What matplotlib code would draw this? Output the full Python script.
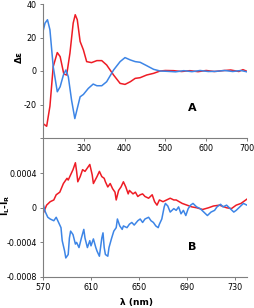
import numpy as np
import matplotlib
matplotlib.use('Agg')
import matplotlib.pyplot as plt

# Panel A: CD spectra (delta epsilon vs wavelength)
wl_a_red = [200, 209, 217, 225, 235, 242, 251, 258, 266, 274, 279, 284, 291, 299, 307, 319, 332,
            344, 356, 373, 389, 401, 414, 426, 438, 454, 471, 487, 500, 520, 540, 560, 580, 600,
            620, 640, 660, 680, 690, 700]
de_red = [-31.4, -33, -21, 2.6, 11, 8.6, -1.8, -2.4, 10.6, 28.6, 33.6, 30.6, 17.6, 12.6, 5.6, 5, 6.2,
          6.2, 3.6, -2.4, -7.4, -8, -6.4, -4.4, -4, -2.4, -1.4, 0, 0.3, 0.2, -0.3, 0.2, -0.4, 0.3,
          -0.3, 0.2, 0.6, -0.3, 0.8, -0.2]
wl_a_blue = [200, 205, 211, 217, 225, 235, 242, 250, 256, 262, 270, 278, 284, 291, 299, 311, 323,
             332, 344, 356, 373, 389, 401, 414, 426, 438, 454, 471, 487, 505, 525, 545, 565, 585,
             605, 625, 645, 665, 685, 700]
de_blue = [23.6, 28.6, 30.6, 24.6, 2.6, -12.4, -9.4, -2.4, 0.6, -3.4, -17.4, -28.4, -22.4, -15.4, -14,
           -10.4, -7.8, -8.8, -8.8, -6.4, 0.6, 5.6, 8, 6.6, 5.6, 5.2, 3.2, 1, 0, -0.2, -0.5, 0.2,
           -0.4, 0.3, -0.3, -0.2, 0.3, -0.3, 0.3, -0.5]

# Panel B: CPL (I_L - I_R vs wavelength)
wl_b_red = [570, 573, 576, 579, 581, 584, 587, 590, 591, 593, 595, 597, 598, 599, 601, 603, 605, 607,
            609, 611, 612, 615, 617, 619, 621, 622, 624, 626, 628, 630, 631, 633, 635, 637, 639, 641,
            642, 645, 647, 649, 651, 653, 655, 658, 661, 663, 665, 667, 670, 673, 676, 679, 681, 686,
            690, 694, 698, 703, 708, 712, 717, 723, 727, 731, 735, 740]
cpl_red = [-0.00007, 0.00003, 0.00007, 0.00009, 0.00015, 0.00018, 0.00028, 0.00034, 0.00032, 0.00038,
           0.00044, 0.00052, 0.00042, 0.0003, 0.00036, 0.00044, 0.00042, 0.00046, 0.0005, 0.00038,
           0.00028, 0.00036, 0.00042, 0.00036, 0.00034, 0.0003, 0.00024, 0.00028, 0.00022, 0.00018,
           0.00009, 0.0002, 0.00024, 0.0003, 0.00024, 0.00016, 0.0002, 0.00016, 0.00018, 0.00013,
           0.00015, 0.00016, 0.00013, 0.00011, 0.00015, 0.00007, 0.00003, 0.00009, 0.00007, 0.00009,
           0.00011, 0.00009, 0.00009, 0.00005, 0.00003, 0.00001, 0.0, -0.00002, 0.0, 0.00002,
           0.00003, 0.0, -0.00001, 0.00003, 0.00005, 0.0001]
wl_b_blue = [570, 572, 574, 576, 579, 581, 583, 585, 586, 588, 589, 591, 592, 593, 595, 597, 598, 600,
             602, 604, 605, 607, 609, 610, 612, 614, 615, 617, 619, 620, 621, 622, 624, 625, 627, 629,
             631, 632, 634, 636, 637, 640, 642, 644, 646, 649, 651, 653, 655, 658, 660, 662, 664, 666,
             667, 669, 671, 672, 674, 676, 679, 681, 683, 685, 687, 689, 691, 693, 695, 698, 701, 704,
             707, 710, 713, 715, 718, 720, 723, 726, 729, 731, 734, 737, 740]
cpl_blue = [0.00005, -0.00005, -0.00011, -0.00013, -0.00015, -0.00011, -0.00017, -0.00023, -0.00038,
            -0.0005, -0.00058, -0.00054, -0.00035, -0.00027, -0.00031, -0.00042, -0.0004, -0.00046,
            -0.00035, -0.00025, -0.00035, -0.00046, -0.00038, -0.00044, -0.00036, -0.00046, -0.0005,
            -0.00056, -0.00035, -0.00029, -0.00046, -0.00054, -0.00056, -0.00046, -0.00036, -0.00027,
            -0.00023, -0.00013, -0.00021, -0.00025, -0.00021, -0.00023, -0.00019, -0.00017, -0.0002,
            -0.00015, -0.00013, -0.00017, -0.00013, -0.00011, -0.00015, -0.00017, -0.00021, -0.00023,
            -0.00019, -0.00013, 0.00001, 0.00005, 0.00002, -0.00005, -0.00001, -0.00003, 0.00001,
            -0.00007, -0.00003, -0.00009, -0.00001, 0.00003, 0.00005, 0.00001, -0.00001, -0.00005,
            -0.00009, -0.00005, -0.00003, 0.00001, 0.00004, 0.00001, 0.00003, -0.00001, -0.00005,
            -0.00003, 0.00001, 0.00005, 0.00003]

RED = '#ee1c25'
BLUE = '#3d85e6'
AXC = '#7f7f7f'

fig = plt.figure(figsize=(2.55, 3.08), dpi=100)
axA = fig.add_axes([43/255, 1-138/308, 204/255, 134/308])
axB = fig.add_axes([43/255, 1-277/308, 204/255, 138.5/308])

for ax in (axA, axB):
    ax.patch.set_alpha(0)
    for s in ('top', 'right'):
        ax.spines[s].set_visible(False)
    for s in ('left', 'bottom'):
        ax.spines[s].set_color(AXC)
        ax.spines[s].set_linewidth(0.8)
    ax.tick_params(direction='out', length=2.5, width=0.7, color=AXC, labelsize=5.8, pad=2)

# panel A
axA.plot(wl_a_red, de_red, color=RED, lw=1.1)
axA.plot(wl_a_blue, de_blue, color=BLUE, lw=1.1)
axA.set_xlim(200, 700)
axA.set_ylim(-40, 40)
axA.set_xticks([300, 400, 500, 600, 700])
axA.set_yticks([-40, -20, 0, 20, 40])
axA.set_yticklabels(['', '-20', '0', '20', '40'])

# panel B
axB.plot(wl_b_red, cpl_red, color=RED, lw=1.1)
axB.plot(wl_b_blue, cpl_blue, color=BLUE, lw=1.1)
axB.set_xlim(570, 740)
axB.set_ylim(-0.0008, 0.0008)
axB.set_xticks([570, 610, 650, 690, 730])
axB.set_yticks([-0.0008, -0.0004, 0, 0.0004])
axB.set_yticklabels(['-0.0008', '-0.0004', '0', '0.0004'])

fig.text(192/255, 1-108/308, 'A', fontsize=8, fontweight='bold', ha='center', va='center')
fig.text(192/255, 1-247/308, 'B', fontsize=8, fontweight='bold', ha='center', va='center')
fig.text(19/255, 1-57/308, 'Δε', rotation=90, fontsize=6.5, fontweight='bold',
         ha='center', va='center')
fig.text(6/255, 1-205/308, r'$\mathbf{I_L}$-$\mathbf{I_R}$', rotation=90, fontsize=6.5,
         fontweight='bold', ha='center', va='center')
fig.text(137/255, 1-302/308, 'λ (nm)', fontsize=6.5, fontweight='bold', ha='center', va='center')

fig.savefig('out.png', dpi=100)
